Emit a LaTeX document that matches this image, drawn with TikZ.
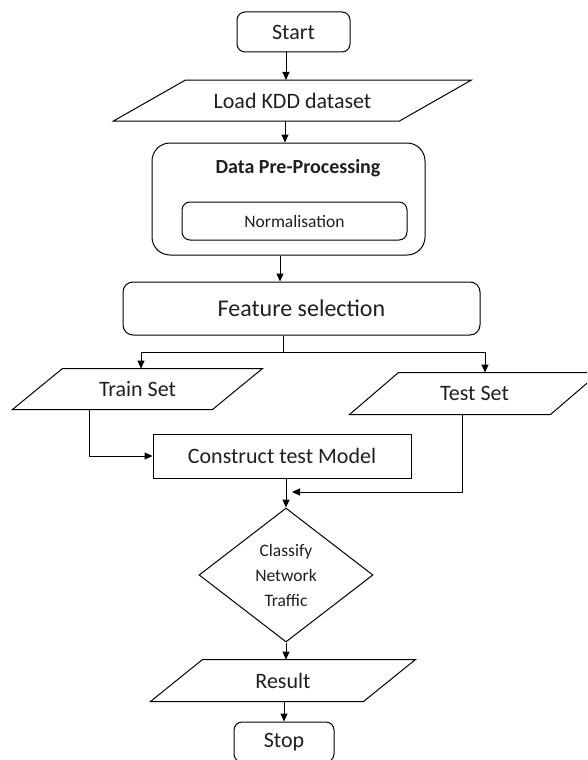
\documentclass[tikz,border=0pt]{standalone}
\usepackage{fontspec}
\setmainfont{Carlito}
\usetikzlibrary{shapes.geometric,arrows.meta}

% slanted frame round an io node: #1 node, #2 half the slant
\newcommand{\ioframe}[2]{%
  \draw ([xshift=-#2]#1.south west) -- ([xshift=-#2]#1.south east)
    -- ([xshift=#2]#1.north east) -- ([xshift=#2]#1.north west) -- cycle;}

\tikzset{
  box/.style={draw, rounded corners=8pt, inner sep=0pt, text=black!88,
    font=\fontsize{22}{26}\selectfont},
  iobox/.style={inner sep=0pt, text=black!88, font=\fontsize{22}{26}\selectfont},
  decision/.style={draw, diamond, inner sep=0pt, align=center, text=black!88,
    font=\fontsize{17.5}{25}\selectfont},
  arr/.style={-{Triangle[length=8pt,width=7pt]}}
}

\begin{document}
\begin{tikzpicture}[x=1pt,y=-1pt,line width=1pt]
    \path[use as bounding box,clip] (0,0) rectangle (587,760);

    % main column
    \node[box, minimum width=113pt, minimum height=40pt] (start) at (293.5,32) {Start};
    \node[iobox, minimum width=285pt, minimum height=40pt] (load) at (292.5,100.5) {Load KDD dataset};
    \node[box, rounded corners=18pt, minimum width=273pt, minimum height=112pt] (dpp) at (288.5,199) {};
    \node[text=black!88, font=\bfseries\fontsize{20}{24}\selectfont] (dpptitle) at (298,168) {Data Pre-Processing};
    \node[box, minimum width=225pt, minimum height=38pt, font=\fontsize{17.5}{21}\selectfont] (norm) at (294.5,221) {Normalisation};
    \node[box, rounded corners=10pt, minimum width=357pt, minimum height=53pt, font=\fontsize{24}{28}\selectfont] (fs) at (301.5,308.5) {Feature selection};

    % the two branches
    \node[iobox, minimum width=199pt, minimum height=40pt] (train) at (137.5,389) {Train Set};
    \node[iobox, minimum width=200pt, minimum height=41pt] (test) at (474.5,393.5) {Test Set};
    \node[box, sharp corners, minimum width=258pt, minimum height=44pt] (construct) at (282,456) {Construct test Model};

    \node[decision, minimum width=174pt, minimum height=134pt] (classify) at (286,575) {Classify\\Network\\Traffic};
    \node[iobox, minimum width=212pt, minimum height=41pt] (result) at (283,680.5) {Result};
    \node[box, minimum width=100pt, minimum height=40pt] (stop) at (284,742) {Stop};

    \ioframe{load}{36pt}
    \ioframe{train}{25pt}
    \ioframe{test}{24.5pt}
    \ioframe{result}{26pt}

    \coordinate (split) at (283,352);
    \coordinate (merge) at (292,492);

    \draw[arr] ([xshift=-7.5pt]start.south) -- ([xshift=-7.5pt]start.south |- load.north);
    \draw[arr] ([xshift=-3.5pt]dpp.north |- load.south) -- ([xshift=-3.5pt]dpp.north);
    \draw[arr] ([xshift=-8.5pt]dpp.south) -- ([xshift=-8.5pt]dpp.south |- fs.north);
    \draw (split |- fs.south) -- (split);
    \draw[arr] (split) -| ([xshift=3.5pt]train.north);
    \draw[arr] (split) -| ([xshift=10.5pt]test.north);
    \draw[arr] ([xshift=-48.5pt]train.south) |- (construct.west);
    \draw[arr] ([xshift=-12.5pt]test.south) |- (merge);
    \draw[arr] (classify.north |- construct.south) -- (classify.north);
    \draw[arr] (classify.south) -- (classify.south |- result.north);
    \draw[arr] (stop.north |- result.south) -- (stop.north);
\end{tikzpicture}
\end{document}
